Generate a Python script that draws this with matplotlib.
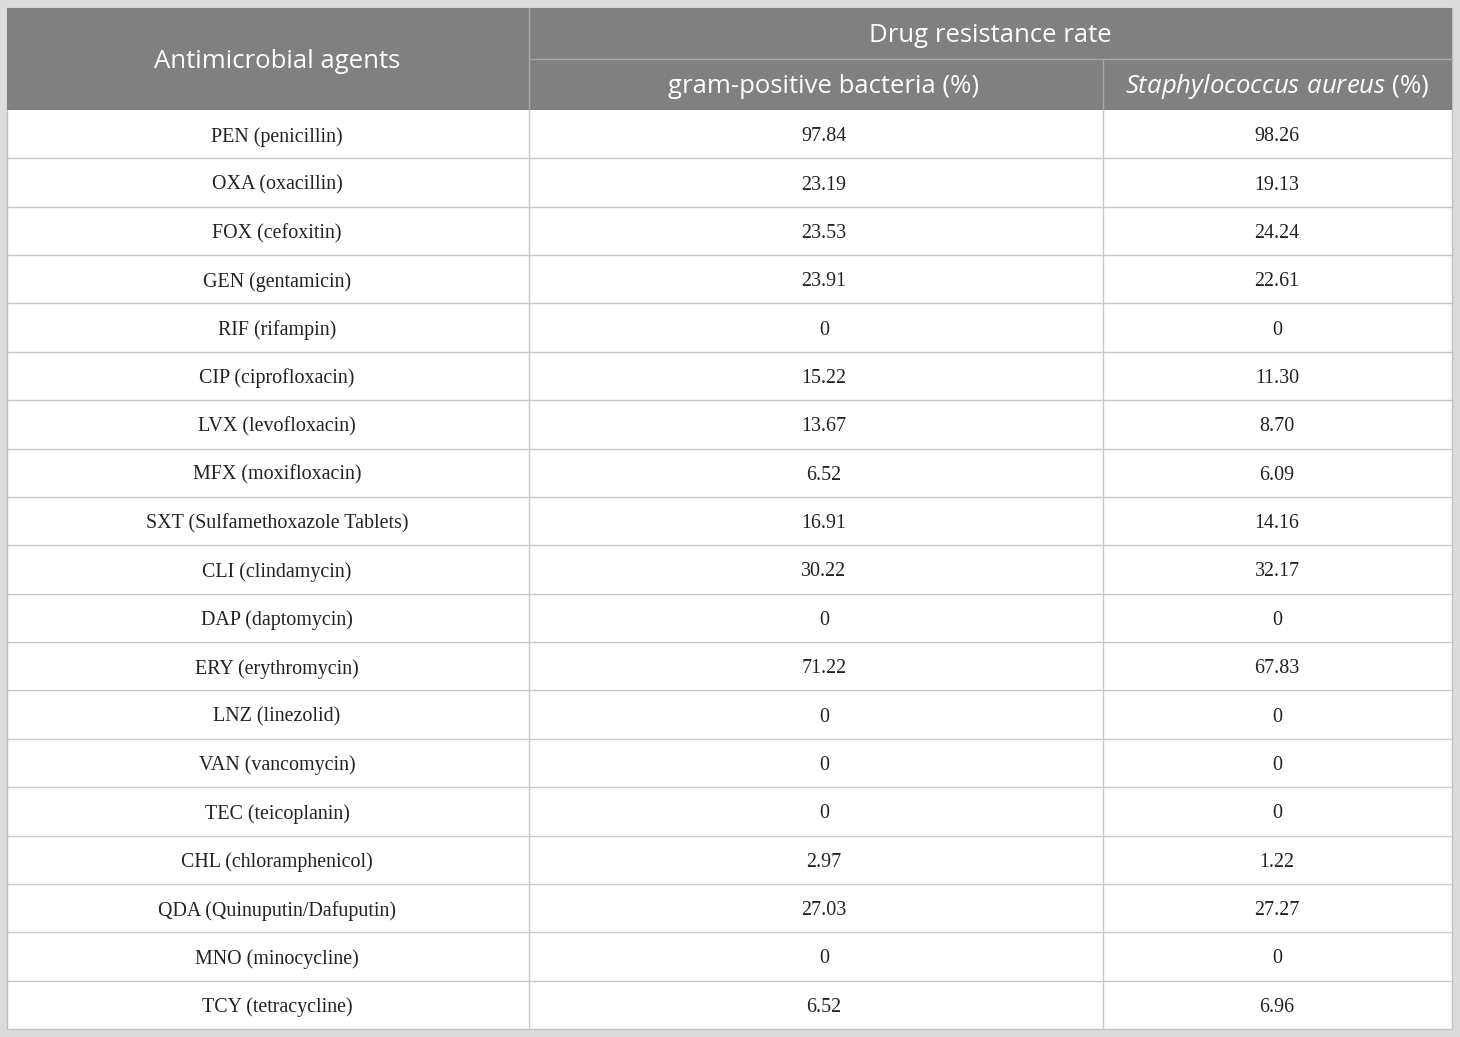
import matplotlib.pyplot as plt
from matplotlib.patches import Rectangle

plt.rcParams["mathtext.fontset"] = "custom"
plt.rcParams["mathtext.it"] = "Open Sans:italic"
plt.rcParams["mathtext.rm"] = "Open Sans"

agents = ["PEN (penicillin)", "OXA (oxacillin)", "FOX (cefoxitin)", "GEN (gentamicin)",
          "RIF (rifampin)", "CIP (ciprofloxacin)", "LVX (levofloxacin)", "MFX (moxifloxacin)",
          "SXT (Sulfamethoxazole Tablets)", "CLI (clindamycin)", "DAP (daptomycin)",
          "ERY (erythromycin)", "LNZ (linezolid)", "VAN (vancomycin)", "TEC (teicoplanin)",
          "CHL (chloramphenicol)", "QDA (Quinuputin/Dafuputin)", "MNO (minocycline)",
          "TCY (tetracycline)"]
gram_pos = ["97.84", "23.19", "23.53", "23.91", "0", "15.22", "13.67", "6.52", "16.91",
            "30.22", "0", "71.22", "0", "0", "0", "2.97", "27.03", "0", "6.52"]
staph = ["98.26", "19.13", "24.24", "22.61", "0", "11.30", "8.70", "6.09", "14.16",
         "32.17", "0", "67.83", "0", "0", "0", "1.22", "27.27", "0", "6.96"]

W, H = 1460, 1037
left, right, top, bottom = 7, 1452, 8, 1029
col1, col2 = 529, 1103
head_mid, head_bot = 59, 110
row_h = (bottom - head_bot) / len(agents)
# text centres of the three columns (first two cells carry a little left padding)
cx = [277, 824, 1277]

fig = plt.figure(figsize=(W / 100, H / 100), dpi=100)
fig.patch.set_facecolor("#dcdcdc")
ax = fig.add_axes([0, 0, 1, 1])
ax.set_xlim(0, W)
ax.set_ylim(H, 0)
ax.axis("off")

# table body + header
ax.add_patch(Rectangle((left, top), right - left, bottom - top, facecolor="white",
                       edgecolor="#c0c0c0", lw=1))
ax.add_patch(Rectangle((left, top), right - left, head_bot - top, facecolor="#808080",
                       edgecolor="none"))
ax.plot([col1, col1], [top, head_bot], color="#a8a8a8", lw=1)
ax.plot([col2, col2], [head_mid, head_bot], color="#a8a8a8", lw=1)
ax.plot([col1, right], [head_mid, head_mid], color="#a8a8a8", lw=1)

hfont = dict(family="Open Sans", fontsize=18.5, color="white", ha="center", va="center")
ax.text(cx[0], (top + head_bot) / 2 + 2, "Antimicrobial agents", **hfont)
ax.text(990, (top + head_mid) / 2 + 2.5, "Drug resistance rate", **hfont)
ax.text(cx[1], (head_mid + head_bot) / 2 + 2, "gram-positive bacteria (%)", **hfont)
ax.text(cx[2], (head_mid + head_bot) / 2 + 2,
        r"$\mathit{Staphylococcus\ aureus}$ (%)", **hfont)

# rows
bfont = dict(family="Liberation Serif", fontsize=14.4, color="#222222",
             ha="center", va="center")
for i in range(len(agents)):
    y0 = head_bot + i * row_h
    yc = y0 + row_h / 2 + 2.5
    if i > 0:
        ax.plot([left, right], [y0, y0], color="#c8c8c8", lw=1)
    ax.text(cx[0], yc, agents[i], **bfont)
    ax.text(cx[1], yc, gram_pos[i], **bfont)
    ax.text(cx[2], yc, staph[i], **bfont)

ax.plot([col1, col1], [head_bot, bottom], color="#c8c8c8", lw=1)
ax.plot([col2, col2], [head_bot, bottom], color="#c8c8c8", lw=1)

fig.savefig("out.png", dpi=100, facecolor=fig.get_facecolor())
